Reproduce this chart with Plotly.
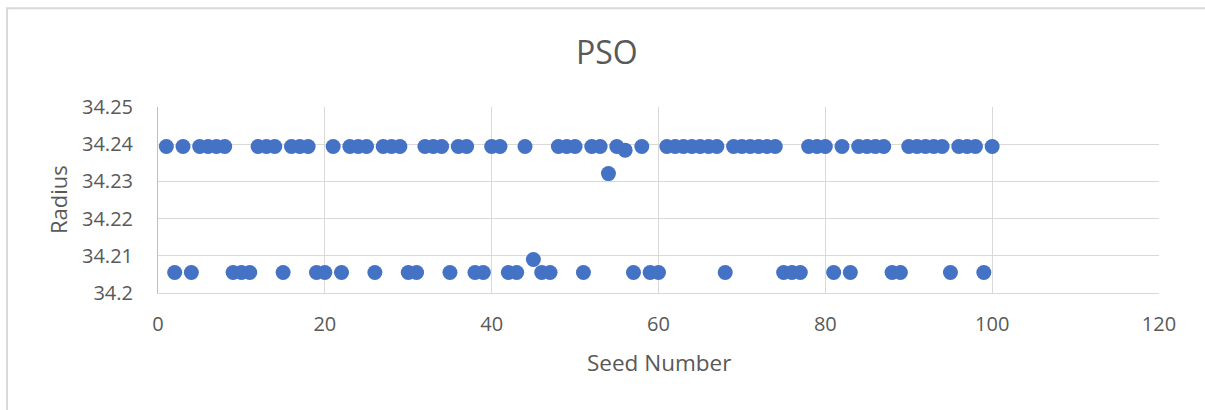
import plotly.graph_objects as go

seed_number = list(range(1, 101))
radius = [
    34.2394, 34.2055, 34.2394, 34.2055, 34.2394, 34.2394, 34.2394, 34.2394, 34.2055, 34.2055,
    34.2055, 34.2394, 34.2394, 34.2394, 34.2055, 34.2394, 34.2394, 34.2394, 34.2055, 34.2055,
    34.2394, 34.2055, 34.2394, 34.2394, 34.2394, 34.2055, 34.2394, 34.2394, 34.2394, 34.2055,
    34.2055, 34.2394, 34.2394, 34.2394, 34.2055, 34.2394, 34.2394, 34.2055, 34.2055, 34.2394,
    34.2394, 34.2055, 34.2055, 34.2394, 34.2090, 34.2055, 34.2055, 34.2394, 34.2394, 34.2394,
    34.2055, 34.2394, 34.2394, 34.2321, 34.2394, 34.2384, 34.2055, 34.2394, 34.2055, 34.2055,
    34.2394, 34.2394, 34.2394, 34.2394, 34.2394, 34.2394, 34.2394, 34.2055, 34.2394, 34.2394,
    34.2394, 34.2394, 34.2394, 34.2394, 34.2055, 34.2055, 34.2055, 34.2394, 34.2394, 34.2394,
    34.2055, 34.2394, 34.2055, 34.2394, 34.2394, 34.2394, 34.2394, 34.2055, 34.2055, 34.2394,
    34.2394, 34.2394, 34.2394, 34.2394, 34.2055, 34.2394, 34.2394, 34.2394, 34.2055, 34.2394,
]
x_tick_vals = [0, 20, 40, 60, 80, 100, 120]
x_tick_text = ["0", "20", "40", "60", "80", "100", "120"]
y_tick_vals = [34.2, 34.21, 34.22, 34.23, 34.24, 34.25]
y_tick_text = ["34.2", "34.21", "34.22", "34.23", "34.24", "34.25"]

FONT = "Open Sans"
TXT = "#595959"
GRID = "#d9d9d9"

fig = go.Figure()
fig.add_trace(go.Scatter(
    x=seed_number, y=radius, mode="markers",
    marker=dict(size=15, color="#4472C4", line=dict(width=0)),
    showlegend=False,
))

fig.update_layout(
    width=1205, height=410,
    margin=dict(l=158, r=46, t=107, b=117),
    paper_bgcolor="white", plot_bgcolor="white",
    font=dict(family=FONT, color=TXT, size=20),
    xaxis=dict(
        range=[0, 120], tickvals=x_tick_vals, ticktext=x_tick_text,
        showgrid=True, gridcolor=GRID, gridwidth=1,
        showline=True, linecolor=GRID, linewidth=1,
        zeroline=False, ticks="", ticklabelstandoff=13,
        tickfont=dict(family=FONT, size=20, color=TXT),
    ),
    yaxis=dict(
        range=[34.2, 34.25], tickvals=y_tick_vals, ticktext=y_tick_text,
        showgrid=True, gridcolor=GRID, gridwidth=1,
        showline=True, linecolor="#bfbfbf", linewidth=1,
        zeroline=False, ticks="", ticklabelstandoff=20,
        tickfont=dict(family=FONT, size=20, color=TXT),
    ),
    shapes=[dict(
        type="rect", xref="paper", yref="paper",
        x0=-0.1508, x1=1.2, y0=-1.0, y1=1.531,
        line=dict(color=GRID, width=2), fillcolor="rgba(0,0,0,0)", layer="below",
    )],
    annotations=[
        dict(text="PSO", xref="paper", yref="paper", x=0.449, y=1.297,
             xanchor="center", yanchor="middle", showarrow=False,
             font=dict(family=FONT, size=32, color=TXT)),
        dict(text="Seed Number", xref="paper", yref="paper", x=0.5005, y=-0.375,
             xanchor="center", yanchor="middle", showarrow=False,
             font=dict(family=FONT, size=22.5, color=TXT)),
        dict(text="Radius", xref="paper", yref="paper", x=-0.0999, y=0.5,
             xanchor="center", yanchor="middle", showarrow=False, textangle=-90,
             font=dict(family=FONT, size=22, color=TXT)),
    ],
)

fig.write_html(
    "out.html",
    config={"displayModeBar": False},
    post_script="document.body.style.margin='0px';document.body.style.overflow='hidden';",
)
